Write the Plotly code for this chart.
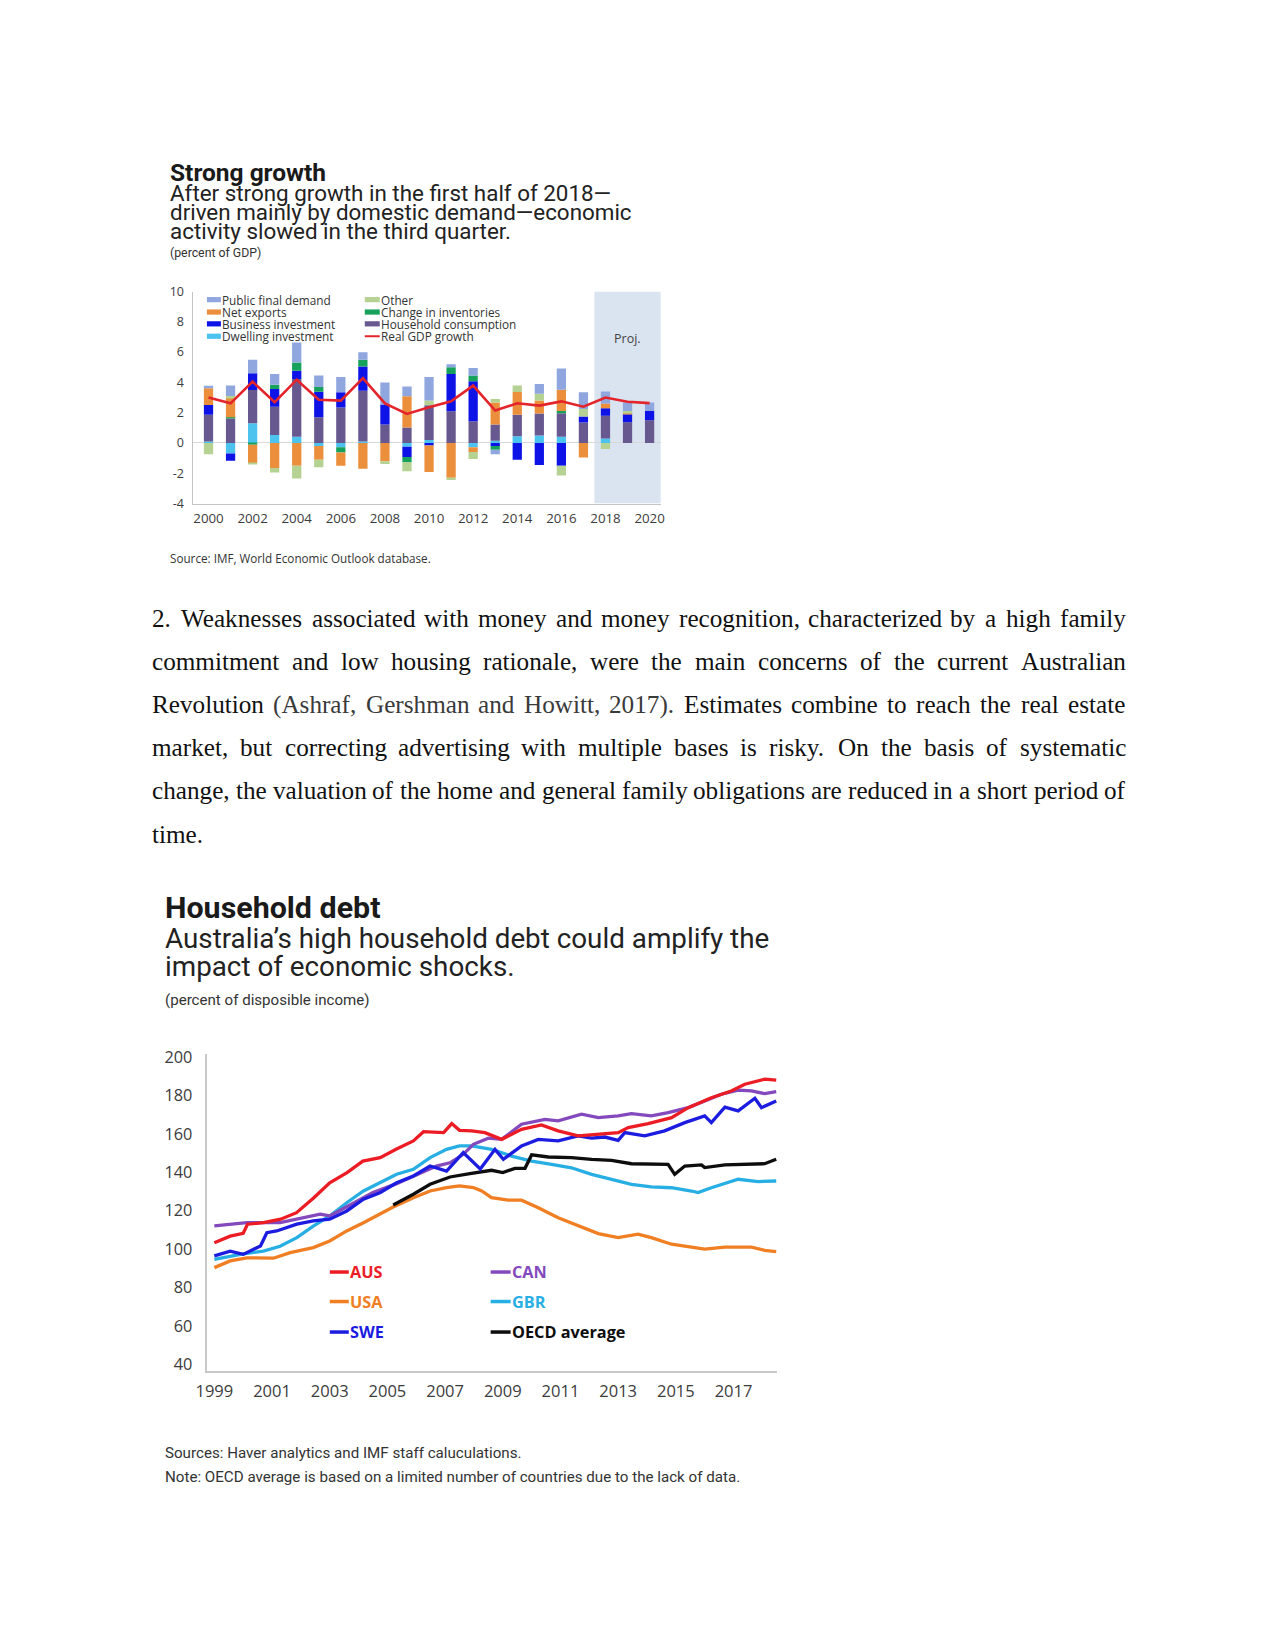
import plotly.graph_objects as go

# page is 1275x1650; body margin of 8px -> keep figure inside the viewport
PAGE_W, PAGE_H = 1275, 1650
OFF = 8
FW, FH = PAGE_W - 2 * OFF, PAGE_H - 2 * OFF
# empirical correction of the capture pipeline (offset and slight shrink)
AX, BX = 10.0, 0.989
AY, BY = 8.3, 0.9894


def px(x):
    return ((x - AX) / BX - OFF) / FW


def py(y):
    return 1 - ((y - AY) / BY - OFF) / FH


# ---------------- Chart 1 data: contributions to growth ----------------
years = list(range(2000, 2021))
dwelling = [0.1, -0.7, 1.3, 0.53, 0.42, -0.2, -0.28, 0.1, 0, -0.25, 0.2, 0, -0.28, 0.15, 0.45, 0.5, 0.42, 0, 0.3, 0, 0]
household = [1.77, 1.62, 2.2, 1.87, 3.8, 1.7, 2.35, 3.35, 1.22, 1.03, 2.3, 2.1, 1.43, 1.07, 1.42, 1.45, 1.55, 1.35, 1.5, 1.37, 1.5]
business = [0.64, -0.48, 1.1, 1.17, 0.55, 1.68, 1.0, 1.6, 1.33, -0.68, -0.17, 2.45, 2.64, -0.2, -1.1, -1.45, -1.5, 0.4, 0.5, 0.53, 0.62]
inventories = [0, 0.08, -0.12, 0.28, 0.55, 0.32, -0.35, 0.44, 0, -0.33, 0, 0.45, 0.38, -0.25, 0, 0, 0.15, 0, 0, 0, 0]
net_exports = [1.1, 1.3, -1.2, -1.65, -1.5, -0.9, -0.87, -1.7, -1.2, 2.05, -1.75, -2.3, -0.32, 1.45, 1.5, 0.85, 1.4, -0.95, 0.3, 0.1, 0]
other = [-0.75, 0.1, -0.08, -0.3, -0.85, -0.5, 0, 0, -0.18, -0.6, 0.3, -0.15, -0.45, 0.23, 0.42, 0.45, -0.65, 0.5, -0.4, 0.12, 0]
public = [0.17, 0.7, 0.9, 0.7, 1.32, 0.75, 1.0, 0.5, 1.45, 0.65, 1.55, 0.2, 0.5, -0.3, 0, 0.65, 1.4, 1.1, 0.8, 0.55, 0.55]
gdp_growth = [3.0, 2.62, 4.05, 2.69, 4.18, 2.86, 2.8, 4.28, 2.62, 1.92, 2.36, 2.75, 3.79, 2.14, 2.62, 2.47, 2.75, 2.4, 3.0, 2.72, 2.63]

comp_names = ["Dwelling investment", "Household consumption", "Business investment",
              "Change in inventories", "Net exports", "Other", "Public final demand"]
comp_values = [dwelling, household, business, inventories, net_exports, other, public]
comp_colors = ["#4cc3ef", "#67588f", "#0d12e6", "#16a25c", "#eb8f3c", "#b6d292", "#8fa6df"]
gdp_name = "Real GDP growth"
gdp_color = "#e3242b"
c1_yticks = [-4, -2, 0, 2, 4, 6, 8, 10]
c1_xticks = list(range(2000, 2021, 2))

# ---------------- Chart 2 data: household debt ----------------
aus_x = [1999.0, 1999.55, 2000.0, 2000.15, 2000.7, 2001.3, 2001.85, 2002.45, 2003.0, 2003.6, 2004.15, 2004.75,
         2005.3, 2005.9, 2006.25, 2006.95, 2007.23, 2007.5, 2007.92, 2008.38, 2008.96, 2009.65, 2010.34,
         2010.92, 2011.61, 2012.31, 2013.0, 2013.35, 2014.04, 2014.85, 2015.43, 2016.23, 2016.92, 2017.39,
         2018.08, 2018.48]
aus_y = [103.4, 106.8, 108.3, 113.0, 113.8, 115.6, 119.0, 126.8, 134.6, 139.9, 145.9, 147.7, 152.0, 156.4,
         161.2, 160.7, 165.4, 161.9, 161.6, 160.7, 157.2, 162.4, 164.7, 161.6, 159.0, 159.8, 160.7, 163.3,
         165.4, 168.5, 173.7, 178.9, 182.4, 185.9, 188.5, 188.0]
can_x = [1999.0, 2000.13, 2001.28, 2001.86, 2002.67, 2003.0, 2003.82, 2004.5, 2005.3, 2005.9, 2006.7, 2007.17,
         2007.63, 2007.98, 2008.5, 2008.96, 2009.65, 2010.46, 2010.92, 2011.73, 2012.31, 2013.0, 2013.46,
         2014.15, 2014.73, 2015.43, 2016.0, 2016.58, 2017.16, 2017.62, 2018.08, 2018.48]
can_y = [112.1, 113.8, 113.8, 115.6, 118.2, 117.3, 124.2, 129.5, 134.0, 138.1, 143.3, 145.0, 149.4, 154.6,
         157.8, 157.2, 165.1, 167.6, 166.8, 170.3, 168.5, 169.4, 170.6, 169.4, 171.1, 173.7, 177.2, 180.7,
         182.8, 182.4, 181.0, 182.0]
swe_x = [1999.0, 1999.55, 2000.0, 2000.6, 2000.82, 2001.16, 2001.86, 2002.43, 2003.0, 2003.59, 2004.17, 2004.74,
         2005.32, 2005.9, 2006.48, 2007.05, 2007.63, 2008.22, 2008.73, 2009.02, 2009.65, 2010.23, 2010.92,
         2011.61, 2012.08, 2012.54, 2013.0, 2013.23, 2013.92, 2014.61, 2015.31, 2016.0, 2016.23, 2016.7,
         2017.16, 2017.74, 2017.97, 2018.48]
swe_y = [96.5, 99.0, 97.3, 101.7, 108.6, 109.5, 113.0, 114.7, 115.6, 119.9, 126.0, 129.4, 134.6, 138.1, 143.3,
         140.7, 150.3, 141.8, 152.0, 146.8, 153.8, 157.2, 156.4, 159.0, 157.8, 158.4, 156.7, 160.7, 159.0,
         161.6, 165.9, 169.4, 165.9, 174.0, 172.0, 178.6, 173.7, 177.2]
gbr_x = [1999.0, 2000.0, 2000.7, 2001.28, 2001.86, 2002.43, 2003.0, 2003.59, 2004.17, 2004.74, 2005.32, 2005.9,
         2006.48, 2007.05, 2007.5, 2007.92, 2008.61, 2009.3, 2010.0, 2010.69, 2011.38, 2012.08, 2012.77,
         2013.46, 2014.15, 2014.85, 2015.54, 2015.77, 2016.23, 2017.16, 2017.85, 2018.48]
gbr_y = [94.7, 97.5, 99.0, 101.5, 106.0, 112.0, 117.3, 124.2, 130.3, 134.6, 139.0, 141.6, 147.7, 152.0, 153.8,
         153.8, 152.0, 148.5, 145.9, 144.2, 142.4, 139.0, 136.4, 133.8, 132.4, 132.0, 130.3, 129.5, 132.0,
         136.4, 135.2, 135.5]
usa_x = [1999.0, 1999.55, 2000.13, 2001.05, 2001.63, 2002.43, 2003.0, 2003.59, 2004.17, 2004.74, 2005.2, 2005.9,
         2006.48, 2007.05, 2007.5, 2007.98, 2008.27, 2008.61, 2009.19, 2009.65, 2010.23, 2010.92, 2011.61,
         2012.31, 2013.0, 2013.69, 2014.15, 2014.85, 2015.54, 2016.0, 2016.7, 2017.62, 2018.08, 2018.48]
usa_y = [90.4, 93.9, 95.5, 95.3, 98.2, 100.8, 104.3, 109.5, 113.8, 118.2, 122.0, 126.8, 130.3, 132.1, 133.0,
         132.1, 130.3, 126.8, 125.5, 125.5, 121.6, 116.4, 112.1, 108.1, 106.0, 107.8, 106.0, 102.6, 101.1,
         100.0, 101.1, 101.1, 99.4, 98.7]
oecd_x = [2005.2, 2005.9, 2006.48, 2007.17, 2007.86, 2008.32, 2008.61, 2009.0, 2009.42, 2009.77, 2010.0, 2010.58,
          2011.38, 2012.08, 2012.77, 2013.46, 2014.15, 2014.73, 2014.96, 2015.31, 2015.89, 2016.0, 2016.7,
          2017.39, 2018.08, 2018.48]
oecd_y = [123.0, 128.6, 133.8, 137.6, 139.3, 140.5, 141.1, 139.9, 142.1, 142.1, 149.1, 148.0, 147.7, 146.8,
          146.3, 144.5, 144.2, 144.2, 139.0, 143.3, 143.9, 142.5, 143.9, 144.2, 144.5, 146.8]

series2 = [
    ("USA", usa_x, usa_y, "#f07e22"),
    ("GBR", gbr_x, gbr_y, "#27aee3"),
    ("OECD average", oecd_x, oecd_y, "#0d0d0d"),
    ("CAN", can_x, can_y, "#8449bd"),
    ("SWE", swe_x, swe_y, "#1c1ce0"),
    ("AUS", aus_x, aus_y, "#ec1c24"),
]
c2_yticks = list(range(40, 201, 20))
c2_xticks = list(range(1999, 2018, 2))

# ---------------- figure ----------------
fig = go.Figure()

for name, vals, col in zip(comp_names, comp_values, comp_colors):
    fig.add_trace(go.Bar(x=years, y=vals, name=name, marker=dict(color=col, line=dict(width=0)),
                         width=0.42, xaxis="x", yaxis="y", showlegend=False))
fig.add_trace(go.Scatter(x=years, y=gdp_growth, name=gdp_name, mode="lines",
                         line=dict(color=gdp_color, width=2.6), xaxis="x", yaxis="y", showlegend=False))

for name, xs, ys, col in series2:
    fig.add_trace(go.Scatter(x=xs, y=ys, name=name, mode="lines", line=dict(color=col, width=3.3),
                             xaxis="x2", yaxis="y2", showlegend=False))

TICKC = "#3c3c3c"
fig.update_layout(
    width=FW, height=FH, margin=dict(l=0, r=0, t=0, b=0),
    paper_bgcolor="white", plot_bgcolor="white", barmode="relative", showlegend=False,
    xaxis=dict(domain=[px(190.7), px(660)], range=[1999.28, 2020.54], tickvals=c1_xticks,
               showline=True, linecolor="#c4c4c4", linewidth=1.2, showgrid=False, zeroline=False,
               ticks="", ticklabelstandoff=2, tickfont=dict(family="Open Sans", size=13.3, color=TICKC),
               anchor="y", fixedrange=True),
    yaxis=dict(domain=[py(502.7), py(290.7)], range=[-4, 10], tickvals=c1_yticks,
               ticktext=[str(v) for v in c1_yticks], showline=True, linecolor="#c4c4c4", linewidth=1.2,
               showgrid=False, zeroline=True, zerolinecolor="#d8d8d8", zerolinewidth=1, ticks="",
               ticklabelstandoff=5, tickfont=dict(family="Open Sans", size=12.5, color=TICKC), anchor="x"),
    xaxis2=dict(domain=[px(205.5), px(776)], range=[1998.76, 2018.52], tickvals=c2_xticks,
                showline=True, linecolor="#c8c8c8", linewidth=1.5, showgrid=False, zeroline=False,
                ticks="", ticklabelstandoff=5, tickfont=dict(family="Open Sans", size=16.5, color=TICKC),
                anchor="y2"),
    yaxis2=dict(domain=[py(1369.7), py(1052.7)], range=[36.7, 201.8], tickvals=c2_yticks,
                showline=True, linecolor="#c8c8c8", linewidth=1.5, showgrid=False, zeroline=False,
                ticks="", ticklabelstandoff=10, tickfont=dict(family="Open Sans", size=16.3, color=TICKC),
                anchor="x2"),
)

shapes = []
annotations = []

# projection shading
shapes.append(dict(type="rect", xref="x", yref="y", x0=2017.5, x1=2020.5, y0=-4, y1=10,
                   fillcolor="#dae3f0", line=dict(width=0), layer="below"))
annotations.append(dict(x=2019, y=6.93, xref="x", yref="y", text="Proj.", showarrow=False,
                        font=dict(family="Open Sans", size=12.5, color="#444444")))


def add_text(x, y, s, size, family="Roboto", color="#222222", anchor="left"):
    annotations.append(dict(x=px(x), y=py(y), xref="paper", yref="paper", text=s, showarrow=False,
                            xanchor=anchor, yanchor="middle", borderpad=0, borderwidth=0,
                            font=dict(family=family, size=size, color=color)))


# ---- Chart 1 titles ----
add_text(168, 172, "<b>Strong growth</b>", 24.5, color="#1a1a1a")
add_text(168, 192.5, "After strong growth in the first half of 2018\u2014", 22.4)
add_text(168, 211.5, "driven mainly by domestic demand\u2014economic", 22.4)
add_text(168, 230.5, "activity slowed in the third quarter.", 22.4)
add_text(168, 252.5, "(percent of GDP)", 12.3, color="#333333")
add_text(168, 557.6, "Source: IMF, World Economic Outlook database.", 11.7, family="Open Sans", color="#333333")

# ---- Chart 1 legend (manual, two columns) ----
leg_rows = [298.8, 311.2, 323.0, 335.4]
leg1 = [("Public final demand", 6), ("Net exports", 4), ("Business investment", 2), ("Dwelling investment", 0)]
leg2 = [("Other", 5), ("Change in inventories", 3), ("Household consumption", 1)]
for (lab, idx), yy in zip(leg1, leg_rows):
    shapes.append(dict(type="rect", xref="paper", yref="paper", x0=px(205), x1=px(219), y0=py(yy + 2.6),
                       y1=py(yy - 2.6), fillcolor=comp_colors[idx], line=dict(width=0)))
    add_text(220, yy, lab, 11.8, family="Open Sans", color="#333333")
for (lab, idx), yy in zip(leg2, leg_rows[:3]):
    shapes.append(dict(type="rect", xref="paper", yref="paper", x0=px(363), x1=px(378), y0=py(yy + 2.6),
                       y1=py(yy - 2.6), fillcolor=comp_colors[idx], line=dict(width=0)))
    add_text(379, yy, lab, 11.8, family="Open Sans", color="#333333")
shapes.append(dict(type="line", xref="paper", yref="paper", x0=px(363), x1=px(378), y0=py(leg_rows[3]),
                   y1=py(leg_rows[3]), line=dict(color=gdp_color, width=2)))
add_text(379, leg_rows[3], gdp_name, 11.8, family="Open Sans", color="#333333")

# ---- Paragraph (justified, Times metrics) ----
TNR = {' ': 250, '.': 250, ',': 250, '(': 333, ')': 333, '-': 333,
       'A': 722, 'B': 667, 'C': 667, 'D': 722, 'E': 611, 'F': 556, 'G': 722, 'H': 722, 'I': 333, 'J': 389,
       'K': 722, 'L': 611, 'M': 889, 'N': 722, 'O': 722, 'P': 556, 'Q': 722, 'R': 667, 'S': 556, 'T': 611,
       'U': 722, 'V': 722, 'W': 944, 'X': 722, 'Y': 722, 'Z': 611,
       'a': 444, 'b': 500, 'c': 444, 'd': 500, 'e': 444, 'f': 333, 'g': 500, 'h': 500, 'i': 278, 'j': 278,
       'k': 500, 'l': 278, 'm': 778, 'n': 500, 'o': 500, 'p': 500, 'q': 500, 'r': 333, 's': 389, 't': 278,
       'u': 500, 'v': 500, 'w': 722, 'x': 500, 'y': 500, 'z': 444}


def tw(s, size):
    return sum(TNR.get(c, 500) for c in s) / 1000 * size


para_lines = [
    "2. Weaknesses associated with money and money recognition, characterized by a high family",
    "commitment and low housing rationale, were the main concerns of the current Australian",
    "Revolution (Ashraf, Gershman and Howitt, 2017). Estimates combine to reach the real estate",
    "market, but correcting advertising with multiple bases is risky. On the basis of systematic",
    "change, the valuation of the home and general family obligations are reduced in a short period of",
    "time.",
]
para_y = [617.5, 660.7, 703.8, 747.0, 790.0, 833.2]
FS = 25.2
X0, X1 = 150.5, 1123.6
for li, (line, yy) in enumerate(zip(para_lines, para_y)):
    words = line.split(" ")
    widths = [tw(w, FS) * BX for w in words]
    last = li == len(para_lines) - 1
    gap = tw(" ", FS) * BX if last else (X1 - X0 - sum(widths)) / (len(words) - 1)
    xx = X0
    in_cite = False
    for w, wd in zip(words, widths):
        if w.startswith("(Ashraf"):
            in_cite = True
        col = "#3a3a3a" if in_cite else "#111111"
        add_text(xx, yy, w, FS, family="Liberation Serif", color=col)
        if w == "2017).":
            in_cite = False
        xx += wd + gap

# ---- Chart 2 titles ----
add_text(163, 907, "<b>Household debt</b>", 30.4, color="#1a1a1a")
add_text(163, 937.5, "Australia\u2019s high household debt could amplify the", 27.8)
add_text(163, 966, "impact of economic shocks.", 27.8)
add_text(163, 999.5, "(percent of disposible income)", 15.1, color="#333333")
add_text(163, 1452, "Sources: Haver analytics and IMF staff caluculations.", 15.15, color="#333333")
add_text(163, 1476, "Note: OECD average is based on a limited number of countries due to the lack of data.",
         15.15, color="#333333")

# ---- Chart 2 legend (manual, two columns) ----
col_of = {name: col for name, _, _, col in series2}
leg_c1 = ["AUS", "USA", "SWE"]
leg_c2 = ["CAN", "GBR", "OECD average"]
leg2_rows = [1271, 1300.5, 1331]
for names, (lx0, lx1) in ((leg_c1, (328, 347)), (leg_c2, (489, 509))):
    for name, yy in zip(names, leg2_rows):
        shapes.append(dict(type="line", xref="paper", yref="paper", x0=px(lx0), x1=px(lx1), y0=py(yy),
                           y1=py(yy), line=dict(color=col_of[name], width=3.5)))
        add_text(lx1 + 1, yy, "<b>%s</b>" % name, 16.3, family="Open Sans", color=col_of[name])

fig.update_layout(shapes=shapes, annotations=annotations)
fig.write_html("out.html")
